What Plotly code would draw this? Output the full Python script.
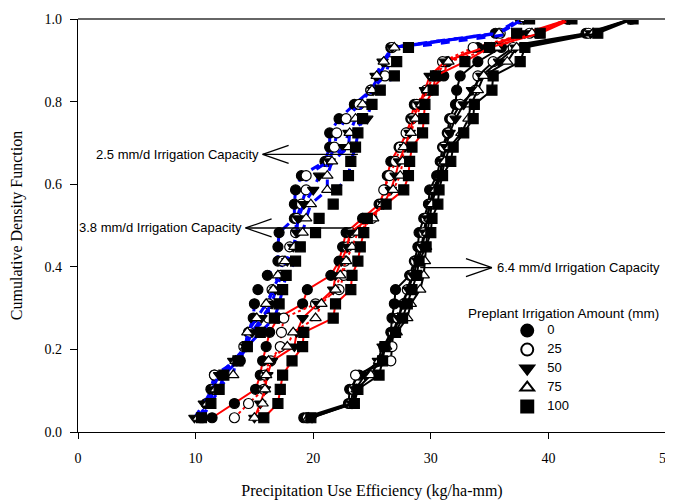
import plotly.graph_objects as go

# cumulative probability levels (29 ranked observations)
n_obs = 29
cdf = [i / n_obs for i in range(1, n_obs + 1)]

preplant = ["0", "25", "50", "75", "100"]

# 2.5 mm/d irrigation capacity
cap25_0 = [10.4, 10.9, 11.3, 11.6, 13.8, 14.2, 14.5, 14.9, 15.0, 15.3, 16.1, 17.0, 17.0, 17.1, 18.4, 18.4, 18.5, 19.0, 21.0, 21.4, 21.4, 22.2, 23.5, 24.9, 25.6, 26.2, 26.6, 35.5, 37.6]
cap25_25 = [10.6, 11.2, 11.5, 11.6, 13.5, 14.1, 14.6, 16.2, 16.2, 16.5, 17.2, 17.4, 18.0, 18.5, 18.6, 19.0, 19.4, 19.4, 21.3, 21.8, 22.0, 22.8, 23.9, 24.9, 26.1, 26.5, 26.7, 35.9, 37.8]
cap25_50 = [9.9, 10.7, 11.4, 12.0, 13.2, 14.3, 14.8, 15.6, 16.5, 16.8, 17.3, 17.8, 18.3, 18.6, 18.7, 19.2, 20.0, 20.5, 21.4, 22.6, 23.0, 24.6, 24.9, 25.1, 25.3, 25.9, 26.7, 35.6, 37.9]
cap25_75 = [10.2, 11.0, 11.7, 13.2, 13.4, 14.3, 14.4, 15.2, 16.0, 16.6, 17.0, 17.6, 18.4, 19.1, 19.4, 19.8, 21.2, 21.2, 21.6, 23.0, 23.1, 23.6, 24.2, 25.0, 25.4, 26.0, 26.9, 35.8, 38.0]
cap25_100 = [10.5, 11.3, 12.0, 12.4, 13.6, 14.4, 15.5, 16.7, 17.1, 17.4, 17.7, 18.5, 18.9, 20.2, 20.5, 21.7, 22.0, 23.0, 23.2, 23.6, 23.8, 24.2, 25.0, 25.7, 26.9, 27.1, 28.1, 37.3, 38.4]

# 3.8 mm/d irrigation capacity
cap38_0 = [11.4, 13.3, 15.1, 15.5, 15.7, 16.0, 16.3, 17.0, 19.1, 19.5, 21.5, 22.2, 22.5, 22.8, 24.2, 25.6, 26.1, 26.3, 26.6, 27.3, 28.0, 28.3, 28.6, 30.0, 31.1, 31.4, 34.0, 39.1, 41.6]
cap38_25 = [13.3, 14.5, 15.8, 15.9, 16.4, 17.2, 17.3, 17.5, 20.2, 22.2, 22.6, 22.7, 22.9, 23.2, 25.0, 25.8, 26.0, 26.5, 27.0, 27.4, 27.9, 28.4, 28.8, 29.6, 30.3, 31.0, 33.6, 38.4, 41.7]
cap38_50 = [15.0, 15.5, 15.9, 16.1, 16.5, 18.4, 18.6, 19.1, 20.4, 21.7, 21.9, 22.4, 22.9, 23.1, 24.8, 26.0, 26.6, 27.0, 27.3, 27.8, 28.2, 28.5, 29.0, 29.5, 29.9, 31.2, 34.5, 38.0, 41.8]
cap38_75 = [15.0, 15.7, 15.9, 16.0, 16.2, 17.8, 18.3, 20.2, 20.7, 21.9, 22.3, 22.8, 23.3, 23.8, 25.1, 25.9, 26.8, 27.4, 27.6, 27.7, 28.3, 28.7, 29.2, 29.7, 30.2, 31.5, 35.6, 38.6, 41.9]
cap38_100 = [15.8, 17.0, 17.2, 17.4, 18.2, 19.1, 19.2, 21.7, 21.9, 23.2, 23.3, 23.8, 24.0, 24.3, 24.6, 26.2, 27.7, 28.1, 28.2, 28.4, 29.3, 29.4, 29.5, 30.2, 30.4, 32.9, 35.0, 39.3, 42.0]

# 6.4 mm/d irrigation capacity
cap64_0 = [19.2, 23.0, 23.1, 23.9, 25.8, 26.0, 26.6, 26.7, 26.9, 27.0, 28.2, 28.6, 28.9, 29.0, 29.4, 29.8, 29.9, 30.5, 30.8, 31.0, 31.4, 31.6, 32.1, 32.2, 32.5, 34.0, 36.0, 43.2, 47.0]
cap64_25 = [19.5, 23.2, 23.4, 23.6, 26.6, 26.7, 26.8, 27.2, 27.7, 28.0, 28.4, 28.7, 29.2, 29.4, 29.6, 30.0, 30.3, 30.8, 31.0, 31.1, 31.5, 31.8, 32.5, 33.8, 34.0, 35.3, 37.0, 43.4, 47.1]
cap64_50 = [19.9, 23.3, 23.6, 24.4, 25.5, 25.9, 26.9, 27.3, 27.5, 28.1, 28.5, 28.9, 29.3, 29.5, 29.7, 29.9, 30.2, 30.7, 31.0, 31.3, 31.6, 32.1, 32.8, 33.5, 34.3, 35.8, 37.2, 43.6, 47.0]
cap64_75 = [19.6, 23.4, 23.7, 24.9, 25.6, 26.2, 27.1, 28.0, 28.3, 29.1, 29.4, 29.5, 29.6, 29.7, 29.9, 30.1, 30.4, 30.9, 31.2, 31.6, 32.6, 33.2, 33.4, 34.0, 34.5, 36.5, 37.3, 43.8, 47.1]
cap64_100 = [19.8, 23.5, 23.8, 25.6, 25.9, 26.1, 27.0, 27.6, 28.0, 28.4, 28.8, 29.0, 29.6, 30.0, 30.1, 30.6, 30.7, 31.0, 31.7, 31.9, 32.8, 33.6, 33.7, 35.2, 35.3, 37.6, 38.0, 44.2, 47.2]

groups = [
    ("6.4", [cap64_0, cap64_25, cap64_50, cap64_75, cap64_100], "black",
     ["solid", "solid", "solid", "solid", "solid"], 2),
    ("3.8", [cap38_0, cap38_25, cap38_50, cap38_75, cap38_100], "red",
     ["solid", "dot", "solid", "dot", "solid"], 2),
    ("2.5", [cap25_0, cap25_25, cap25_50, cap25_75, cap25_100], "blue",
     ["dash", "dash", "dash", "dash", "dash"], 3),
]

symbols = ["circle", "circle", "triangle-down", "triangle-up", "square"]
fills = ["black", "white", "black", "white", "black"]

fig = go.Figure()

for cap, series, col, dashes, lw in groups:
    for k, xs in enumerate(series):
        fig.add_trace(go.Scatter(
            x=xs, y=cdf, mode="lines+markers",
            line=dict(color=col, width=lw, dash=dashes[k]),
            marker=dict(symbol=symbols[k], size=10, color=fills[k],
                        line=dict(color="black", width=1.2)),
            showlegend=False,
            name=f"{cap} mm/d, {preplant[k]} mm",
        ))

for k, lab in enumerate(preplant):
    fig.add_trace(go.Scatter(
        x=[None], y=[None], mode="markers",
        name=f'<span style="font-size:13px">{lab}</span>',
        marker=dict(symbol=symbols[k], size=10, color=fills[k],
                    line=dict(color="black", width=1.2)),
        showlegend=True,
    ))

serif = "Liberation Serif, Times New Roman, serif"
sans = "Arial, Liberation Sans, sans-serif"

# annotation arrows (open V heads)
px_x = 50 / 588.0
px_y = 1 / 413.0
arrows = [
    # (text, y, x_tip, x_tail, direction)
    ("2.5 mm/d Irrigation Capacity", 0.672, 15.7, 23.8, "left"),
    ("3.8 mm/d Irrigation Capacity", 0.494, 14.25, 23.2, "left"),
    ("6.4 mm/d Irrigation Capacity", 0.398, 35.2, 29.1, "right"),
]
shapes = []
annotations = []
for text, yv, xtip, xtail, d in arrows:
    shapes.append(dict(type="line", xref="x", yref="y", x0=xtail, x1=xtip, y0=yv, y1=yv,
                       line=dict(color="black", width=1.3)))
    sgn = 1 if d == "left" else -1
    for s in (1, -1):
        shapes.append(dict(type="line", xref="x", yref="y", x0=xtip, y0=yv,
                           x1=xtip + sgn * 26 * px_x, y1=yv + s * 9 * px_y,
                           line=dict(color="black", width=1.3)))
    annotations.append(dict(
        x=xtip - 0.1 if d == "left" else xtip + 0.3, y=yv, xref="x", yref="y",
        text=text, showarrow=False,
        xanchor="right" if d == "left" else "left", yanchor="middle",
        font=dict(family=sans, size=13, color="black"),
    ))

annotations.append(dict(
    x=0.8265, y=0.2864, xref="paper", yref="paper",
    text="Preplant Irrigation Amount (mm)", showarrow=False,
    xanchor="center", yanchor="middle",
    font=dict(family=sans, size=13.5, color="black"),
))

# gray frame top/right
shapes.append(dict(type="line", xref="paper", yref="paper", x0=0, x1=1, y0=1, y1=1,
                   line=dict(color="#666666", width=2)))
shapes.append(dict(type="line", xref="paper", yref="paper", x0=1, x1=1, y0=0, y1=1,
                   line=dict(color="#666666", width=2)))

fig.update_layout(
    width=665, height=492,
    margin=dict(l=70, r=7, t=11, b=68),
    plot_bgcolor="white", paper_bgcolor="white",
    shapes=shapes, annotations=annotations,
    legend=dict(x=0.730, y=0.2806, xanchor="left", yanchor="top",
                bgcolor="rgba(0,0,0,0)", font=dict(family=sans, size=9.6, color="black"),
                itemsizing="constant", tracegroupgap=0),
    xaxis=dict(range=[0, 50], dtick=10, showgrid=False, zeroline=False, automargin=False,
               showline=True, linecolor="black", linewidth=1.2,
               ticks="outside", ticklen=6, tickcolor="black", ticklabelstandoff=7,
               tickfont=dict(family=serif, size=14, color="black"),
               title=dict(text="Precipitation Use Efficiency (kg/ha-mm)",
                          font=dict(family=serif, size=16, color="black"), standoff=22)),
    yaxis=dict(range=[0, 1.0], dtick=0.2, tickformat=".1f", showgrid=False, zeroline=False,
               automargin=False,
               showline=True, linecolor="black", linewidth=1.2,
               ticks="outside", ticklen=7, tickcolor="black", ticklabelstandoff=5,
               tickfont=dict(family=serif, size=14, color="black"),
               title=dict(text="Cumulative Density Function",
                          font=dict(family=serif, size=16, color="black"), standoff=22)),
)

fig.write_html("out.html")
